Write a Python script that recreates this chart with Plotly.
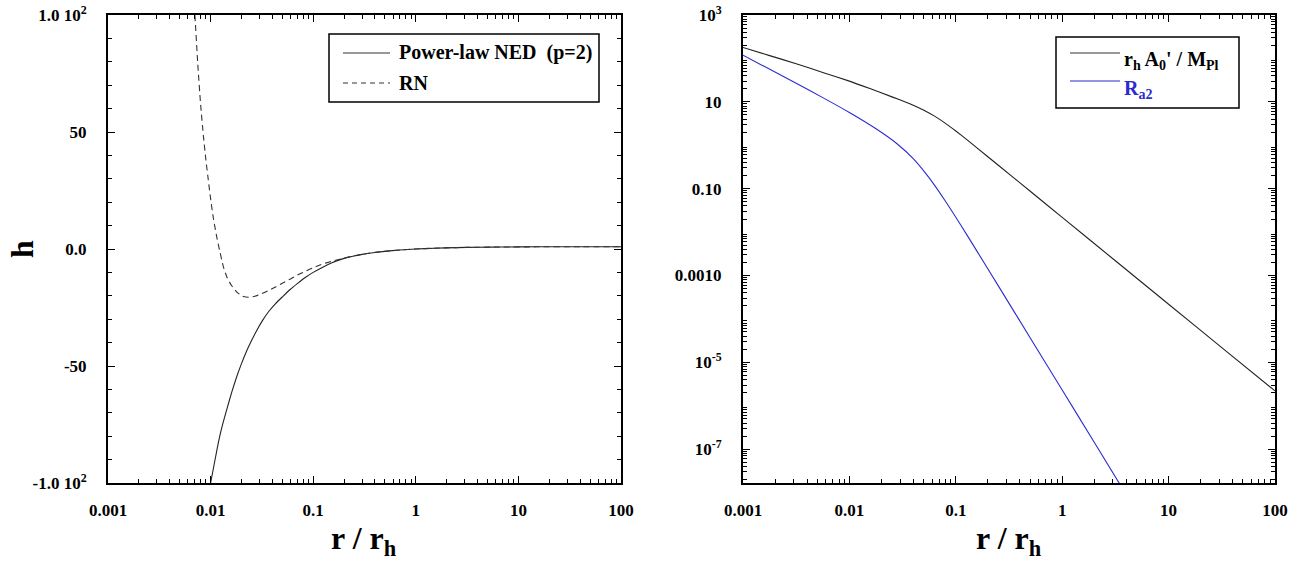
import plotly.graph_objects as go

# ---------------- data ----------------
# Left panel: metric function h versus r / r_h
r_ned = [0.01, 0.011, 0.012, 0.013, 0.0145, 0.016, 0.018, 0.02, 0.0225, 0.025,
         0.028, 0.032, 0.037, 0.043, 0.05, 0.06, 0.07, 0.083, 0.1, 0.12, 0.15,
         0.2, 0.25, 0.3, 0.4, 0.5, 0.7, 1, 1.5, 2.5, 4, 7, 15, 40, 100]
h_ned = [-100, -90.5, -82, -75.5, -68, -61.5, -54.5, -49, -43.5, -39.2,
         -35, -30.6, -26.6, -23.3, -20.5, -17.2, -14.8, -12.3, -10.0, -8.1, -6.0,
         -4.0, -3.0, -2.3, -1.5, -1.0, -0.45, 0, 0.33, 0.6, 0.75, 0.86, 0.93, 0.975, 0.99]

r_rn = [0.00703, 0.0075, 0.008, 0.0085, 0.009, 0.0095, 0.01, 0.0107, 0.0115,
        0.0123, 0.0133, 0.0145, 0.016, 0.018, 0.0205, 0.0235, 0.027, 0.031,
        0.036, 0.043, 0.05, 0.06, 0.07, 0.083, 0.1, 0.12, 0.15, 0.2, 0.25,
        0.3, 0.4, 0.5, 0.7, 1, 1.5, 2.5, 4, 7, 15, 40, 100]
h_rn = [100, 79, 61.5, 48.5, 38, 29.5, 21.5, 12.5, 5,
        -1, -7.5, -12.3, -15.6, -18.4, -20.2, -20.6, -20.2, -19.2,
        -17.9, -16.2, -14.6, -12.8, -11.2, -9.6, -8.0, -6.6, -5.3, -3.85, -2.9,
        -2.25, -1.45, -0.98, -0.42, 0, 0.33, 0.6, 0.75, 0.86, 0.93, 0.975, 0.99]

# Right panel: r_h A0' / M_Pl and R_a2 versus r / r_h
r_a0 = [0.001, 0.00178, 0.00316, 0.00562, 0.01, 0.0158, 0.0251, 0.0345, 0.0398,
        0.0501, 0.0631, 0.0794, 0.1, 0.126, 0.158, 0.251, 0.501, 1, 3.16, 10,
        31.6, 100]
a0 = [179, 116, 75.7, 47.6, 30.0, 19.9, 13.0, 9.66, 8.36,
      6.41, 4.68, 3.23, 2.13, 1.37, 0.869, 0.346, 0.0869, 0.0218, 2.18e-3, 2.18e-4,
      2.18e-5, 2.2e-6]

r_ra2 = [0.001, 0.00316, 0.00562, 0.01, 0.0178, 0.0282, 0.0398, 0.0562, 0.0794,
         0.112, 0.158, 0.251, 0.501, 1, 2, 3.98]
ra2 = [119, 26.7, 12.5, 5.68, 2.39, 1.07, 0.491, 0.177, 0.0528,
       0.0142, 3.64e-3, 5.77e-4, 3.64e-5, 2.30e-6, 1.44e-7, 9.1e-9]

x_tickvals = [0.001, 0.01, 0.1, 1, 10, 100]
x_ticktext = ["0.001", "0.01", "0.1", "1", "10", "100"]
h_tickvals = [-100, -50, 0, 50, 100]
h_ticktext = ["-1.0 10<sup>2</sup>", "-50", "0.0", "50", "1.0 10<sup>2</sup>"]
y_tickvals = [1e3, 1e1, 1e-1, 1e-3, 1e-5, 1e-7]
y_ticktext = ["10<sup>3</sup>", "10", "0.10", "0.0010", "10<sup>-5</sup>", "10<sup>-7</sup>"]
y_odd_decades = [1e2, 1, 1e-2, 1e-4, 1e-6]

# ---------------- layout helpers ----------------
W, H = 1313, 570
FONT = "Liberation Serif"
BLUE = "#2b2bd0"


def px(x):
    return x / W


def py(y):
    return 1 - y / H


x_minor = [m * 10.0 ** e for e in range(-3, 2) for m in range(2, 10)]
y_minor = [m * 10.0 ** e for e in range(-8, 3) for m in range(2, 10)]
h_minor = [v for v in range(-90, 100, 10) if v % 50 != 0]

tickfont = dict(family=FONT, size=17, color="black", weight="bold")

common_axis = dict(
    showline=True, linecolor="black", linewidth=2, mirror="allticks",
    ticks="inside", ticklen=7, tickwidth=1.3, tickcolor="black",
    showgrid=False, zeroline=False, tickfont=tickfont, automargin=False,
)


def minor_ticks(vals):
    return dict(tickmode="array", tickvals=vals, ticks="inside",
                ticklen=4, tickcolor="black", tickwidth=1, showgrid=False)


fig = go.Figure()

curve = dict(width=1.1, shape="spline", smoothing=0.5)
fig.add_trace(go.Scatter(
    x=r_ned, y=h_ned, mode="lines", name="Power-law NED (p=2)",
    line=dict(color="#222222", **curve),
    xaxis="x", yaxis="y", showlegend=False))
fig.add_trace(go.Scatter(
    x=r_rn, y=h_rn, mode="lines", name="RN",
    line=dict(color="#333333", dash="6px,4px", **curve),
    xaxis="x", yaxis="y", showlegend=False))
fig.add_trace(go.Scatter(
    x=r_a0, y=a0, mode="lines", name="r_h A0' / M_Pl",
    line=dict(color="#222222", **curve),
    xaxis="x2", yaxis="y2", showlegend=False))
fig.add_trace(go.Scatter(
    x=r_ra2, y=ra2, mode="lines", name="R_a2",
    line=dict(color=BLUE, **curve),
    xaxis="x2", yaxis="y2", showlegend=False))

fig.update_layout(
    width=W, height=H,
    margin=dict(l=0, r=0, t=0, b=0, autoexpand=False),
    paper_bgcolor="white", plot_bgcolor="white",
    xaxis=dict(
        type="log", domain=[px(108), px(621)], range=[-3, 2],
        tickmode="array", tickvals=x_tickvals, ticktext=x_ticktext,
        ticklabelstandoff=11, minor=minor_ticks(x_minor),
        anchor="y", **common_axis),
    yaxis=dict(
        domain=[py(483), py(15)], range=[-100, 100],
        tickmode="array", tickvals=h_tickvals, ticktext=h_ticktext,
        ticklabelstandoff=16, minor=minor_ticks(h_minor),
        anchor="x", **common_axis),
    xaxis2=dict(
        type="log", domain=[px(743), px(1275)], range=[-3, 2],
        tickmode="array", tickvals=x_tickvals, ticktext=x_ticktext,
        ticklabelstandoff=11, minor=minor_ticks(x_minor),
        anchor="y2", **common_axis),
    yaxis2=dict(
        type="log", domain=[py(483), py(15)], range=[-7.78, 3],
        tickmode="array", tickvals=y_tickvals, ticktext=y_ticktext,
        ticklabelstandoff=16, minor=minor_ticks(y_minor),
        anchor="x2", **common_axis),
    # unlabelled major ticks for the odd decades of the right panel
    yaxis3=dict(
        type="log", overlaying="y2", range=[-7.78, 3], anchor="x2",
        tickmode="array", tickvals=y_odd_decades, showticklabels=False,
        showline=True, linecolor="black", linewidth=2, mirror="allticks",
        ticks="inside", ticklen=7, tickwidth=1.3, tickcolor="black",
        showgrid=False, zeroline=False, automargin=False),
)

# axis titles
title_font = dict(family=FONT, size=32, color="black", weight="bold")
for cx in (364, 1009):
    fig.add_annotation(
        text="r / r<sub>h</sub>", xref="paper", yref="paper",
        x=px(cx), y=py(540), xanchor="center", yanchor="middle",
        showarrow=False, font=title_font)
fig.add_annotation(
    text="h", xref="paper", yref="paper", x=px(22), y=py(249),
    xanchor="center", yanchor="middle", textangle=-90,
    showarrow=False, font=title_font)

# legend boxes
legfont = dict(family=FONT, size=20, color="black", weight="bold")
shapes = [
    dict(type="rect", xref="paper", yref="paper",
         x0=px(329), x1=px(599), y0=py(102), y1=py(34),
         line=dict(color="black", width=1.5), fillcolor="white", layer="above"),
    dict(type="line", xref="paper", yref="paper",
         x0=px(343), x1=px(390), y0=py(53), y1=py(53),
         line=dict(color="#333333", width=1.1), layer="above"),
    dict(type="line", xref="paper", yref="paper",
         x0=px(343), x1=px(390), y0=py(83), y1=py(83),
         line=dict(color="#333333", width=1.1, dash="5px,4px"), layer="above"),
    dict(type="rect", xref="paper", yref="paper",
         x0=px(1056), x1=px(1239), y0=py(108), y1=py(37),
         line=dict(color="black", width=1.5), fillcolor="white", layer="above"),
    dict(type="line", xref="paper", yref="paper",
         x0=px(1070), x1=px(1120), y0=py(53), y1=py(53),
         line=dict(color="#333333", width=1.1), layer="above"),
    dict(type="line", xref="paper", yref="paper",
         x0=px(1070), x1=px(1120), y0=py(81), y1=py(81),
         line=dict(color=BLUE, width=1.1), layer="above"),
]
fig.update_layout(shapes=shapes)

fig.add_annotation(text="Power-law NED&nbsp; (p=2)", xref="paper", yref="paper",
                   x=px(397), y=py(53), xanchor="left", yanchor="middle",
                   showarrow=False, font=legfont)
fig.add_annotation(text="RN", xref="paper", yref="paper",
                   x=px(397), y=py(83), xanchor="left", yanchor="middle",
                   showarrow=False, font=legfont)
fig.add_annotation(text="r<sub>h</sub> A<sub>0</sub>' / M<sub>Pl</sub>",
                   xref="paper", yref="paper",
                   x=px(1122), y=py(60), xanchor="left", yanchor="middle",
                   showarrow=False, font=legfont)
fig.add_annotation(text="R<sub>a2</sub>", xref="paper", yref="paper",
                   x=px(1122), y=py(89), xanchor="left", yanchor="middle",
                   showarrow=False, font=dict(legfont, color=BLUE))

fig.write_html("out.html")
